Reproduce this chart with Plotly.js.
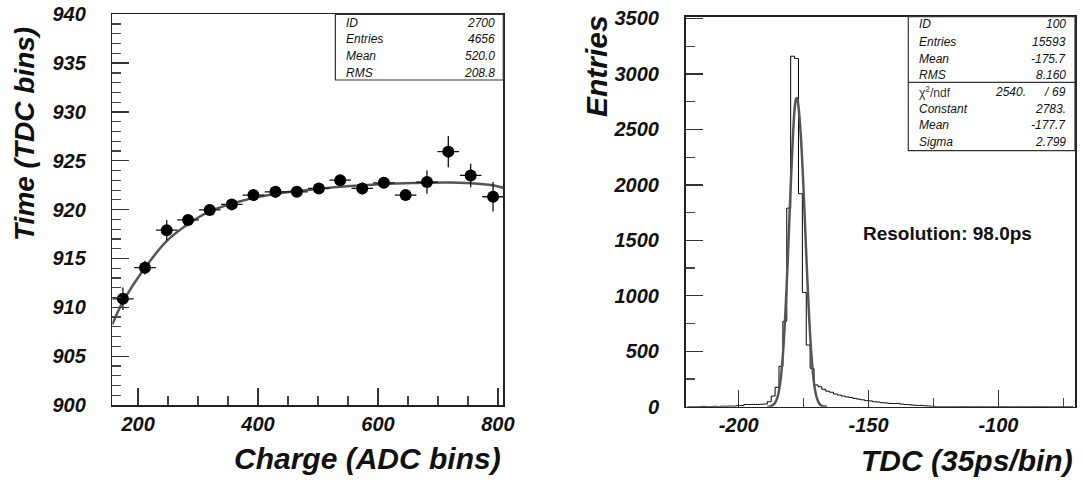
<!DOCTYPE html>
<html>
<head>
<meta charset="utf-8">
<script src="https://cdn.plot.ly/plotly-3.0.1.min.js"></script>
<style>html,body{margin:0;padding:0;background:#fff;}#chart{width:1082px;height:484px;}</style>
</head>
<body>
<div id="chart"></div>
<script>
// ---------- Left panel: Time vs Charge ----------
const chargeX = [174.7, 211.5, 247.7, 283.3, 319.4, 356.2, 392.3, 429.1, 464.7, 501.4, 537.0, 573.8, 609.9, 646.1, 681.7, 717.3, 754.6, 791.9];
const timeY   = [910.87, 914.06, 917.9, 918.95, 919.97, 920.54, 921.49, 921.83, 921.83, 922.17, 923.02, 922.17, 922.75, 921.49, 922.82, 925.94, 923.5, 921.32];
const timeErr = [1.15, 0.7, 1.05, 0.55, 0.5, 0.5, 0.5, 0.6, 0.5, 0.5, 0.5, 0.6, 0.5, 0.5, 1.2, 1.6, 1.2, 1.5];
const chargeErr = [18, 18, 18, 18, 18, 18, 18, 18, 18, 18, 18, 18, 18, 18, 18, 18, 18, 18];
const fitLeftX = [157, 175, 211, 248, 283, 320, 356, 392, 429, 465, 501, 537, 574, 610, 646, 682, 717, 755, 791, 809];
const fitLeftY = [908.25, 910.6, 914.0, 916.8, 918.5, 919.85, 920.6, 921.2, 921.6, 921.9, 922.15, 922.35, 922.5, 922.62, 922.7, 922.76, 922.78, 922.7, 922.5, 922.25];
const statsLeftLabels = ['ID', 'Entries', 'Mean', 'RMS'];
const statsLeftValues = ['2700', '4656', '520.0', '208.8'];

// ---------- Right panel: TDC histogram ----------
const histLow = -220.5, histBinWidth = 1.5;
const tdcCounts = [
  0, 0, 0, 0, 3, 0, 0, 4, 0, 5,
  4, 6, 5, 9, 10, 20, 19, 21, 20, 22,
  24, 45, 96, 175, 363, 770, 1790, 3160, 3140, 1920,
  1030, 556, 346, 196, 180, 157, 140, 130, 114, 105,
  96, 88, 82, 75, 68, 62, 55, 52, 45, 42,
  36, 34, 30, 28, 30, 24, 20, 18, 14, 12,
  12, 8, 6, 4, 0, 0, 0, 0, 0, 0,
  0, 0, 0, 0, 0, 0, 0, 0, 0, 0,
  0, 0, 0, 0, 0, 0, 0, 0, 0, 0,
  0, 0, 0, 0, 0, 0, 0, 0, 0, 0
];
const gausX = [-189, -188, -187, -186, -185, -184, -183, -182, -181, -180, -179, -178.5, -178, -177.7, -177.4, -177, -176, -175, -174, -173, -172, -171, -170, -169, -168, -167, -166];
const gausY = [0.5, 3, 12, 35, 92, 220, 465, 860, 1390, 1980, 2495, 2680, 2770, 2783, 2770, 2710, 2410, 1940, 1380, 860, 462, 212, 85, 28, 8, 2, 0.5];
const tdcTickVals = [-200, -150, -100];
const tdcTickText = ['-200', '-150', '-100'];
const statsRightLabels = ['ID', 'Entries', 'Mean', 'RMS'];
const statsRightValues = ['100', '15593', '-175.7', '8.160'];
const fitLabels = ['Constant', 'Mean', 'Sigma'];
const fitValues = ['2783.', '-177.7', '2.799'];
const chi2Value = '2540.', ndfValue = '69';

const tdcCenters = tdcCounts.map((_, k) => histLow + histBinWidth * (k + 0.5));

// ---------- helpers ----------
const W = 1082, H = 484;
const P = x => x / W;
const Q = y => 1 - y / H;
const FONT = 'Liberation Sans, Arial, Helvetica, sans-serif';
const tickFont = {family: FONT, size: 20, weight: 'bold', style: 'italic', color: '#111'};

function axisBase(extra) {
  return Object.assign({
    showline: true, mirror: true, linecolor: '#222', linewidth: 1.5,
    ticks: 'inside', ticklen: 17, tickwidth: 1.3, tickcolor: '#333',
    showgrid: false, zeroline: false, tickfont: tickFont, fixedrange: true
  }, extra);
}

const traces = [
  {
    x: fitLeftX, y: fitLeftY, xaxis: 'x', yaxis: 'y', type: 'scatter', mode: 'lines',
    line: {color: '#555', width: 2.5, shape: 'spline', smoothing: 1}, hoverinfo: 'skip'
  },
  {
    x: chargeX, y: timeY, xaxis: 'x', yaxis: 'y', type: 'scatter', mode: 'markers',
    marker: {color: '#000', size: 12},
    error_y: {type: 'data', array: timeErr, color: '#111', thickness: 1.3, width: 0},
    error_x: {type: 'data', array: chargeErr, color: '#111', thickness: 1.3, width: 0}
  },
  {
    x: tdcCenters, y: tdcCounts, xaxis: 'x2', yaxis: 'y2', type: 'scatter', mode: 'lines',
    line: {color: '#000', width: 1, shape: 'hvh'}
  },
  {
    x: gausX, y: gausY, xaxis: 'x2', yaxis: 'y2', type: 'scatter', mode: 'lines',
    line: {color: '#555', width: 2.5, shape: 'spline', smoothing: 0.8}
  }
];

const ann = [];
const shapes = [];
function txt(x, y, text, opts) {
  ann.push(Object.assign({
    xref: 'paper', yref: 'paper', x: P(x), y: Q(y), text: text, showarrow: false,
    xanchor: 'left', yanchor: 'middle',
    font: {family: FONT, size: 12, style: 'italic', color: '#111'}
  }, opts || {}));
}

// Axis titles
const titleFont = {family: FONT, size: 28, weight: 'bold', style: 'italic', color: '#111'};
const titleFontBig = {family: FONT, size: 30, weight: 'bold', style: 'italic', color: '#111'};
txt(24, 134, 'Time (TDC bins)', {textangle: -90, xanchor: 'center', yanchor: 'middle', font: titleFont});
txt(503.3, 458, 'Charge (ADC bins)', {xanchor: 'right', font: titleFontBig});
txt(596, 66, 'Entries', {textangle: -90, xanchor: 'center', yanchor: 'middle', font: titleFontBig});
txt(1075, 460, 'TDC (35ps/bin)', {xanchor: 'right', font: titleFontBig});

// Resolution text
txt(947, 233, 'Resolution: 98.0ps', {xanchor: 'center', font: {family: FONT, size: 19, weight: 'bold', color: '#111'}});

// Left stats box
shapes.push({type: 'rect', xref: 'paper', yref: 'paper', x0: P(335.4), x1: P(503.3), y0: Q(80), y1: Q(14.3),
  line: {color: '#333', width: 1.2}, fillcolor: '#fff'});
const leftRows = [23, 39.5, 56, 72.5];
statsLeftLabels.forEach((l, i) => {
  txt(344.3, leftRows[i], l);
  txt(496.7, leftRows[i], statsLeftValues[i], {xanchor: 'right'});
});

// Right stats box
shapes.push({type: 'rect', xref: 'paper', yref: 'paper', x0: P(908.3), x1: P(1075), y0: Q(150.7), y1: Q(16.7),
  line: {color: '#333', width: 1.2}, fillcolor: '#fff'});
shapes.push({type: 'line', xref: 'paper', yref: 'paper', x0: P(908.3), x1: P(1075), y0: Q(82.3), y1: Q(82.3),
  line: {color: '#333', width: 1.2}});
const rightRows = [24.3, 42, 58.7, 75.3];
statsRightLabels.forEach((l, i) => {
  txt(917, rightRows[i], l);
  txt(1068.3, rightRows[i], statsRightValues[i], {xanchor: 'right'});
});
txt(917, 91.7, 'χ<sup>2</sup>/ndf', {font: {family: FONT, size: 12, color: '#333'}});
txt(1028.3, 91.7, chi2Value, {xanchor: 'right'});
txt(1047, 91.7, '/', {xanchor: 'center'});
txt(1068.3, 91.7, ndfValue, {xanchor: 'right'});
const fitRows = [108.7, 125, 142];
fitLabels.forEach((l, i) => {
  txt(917, fitRows[i], l);
  txt(1068.3, fitRows[i], fitValues[i], {xanchor: 'right'});
});

const layout = {
  width: W, height: H, margin: {l: 0, r: 0, t: 0, b: 0},
  paper_bgcolor: '#fff', plot_bgcolor: '#fff', showlegend: false,
  xaxis: axisBase({domain: [P(112.3), P(503.3)], range: [157, 809], anchor: 'y',
    dtick: 200, tick0: 0, ticklabelstandoff: 0,
    minor: {dtick: 50, tick0: 0, ticks: 'inside', ticklen: 9, tickcolor: '#444', tickwidth: 1.2}}),
  yaxis: axisBase({domain: [Q(405), Q(14.3)], range: [900, 940], anchor: 'x',
    dtick: 5, tick0: 900, ticklabelstandoff: 21,
    minor: {dtick: 1, tick0: 900, ticks: 'inside', ticklen: 9, tickcolor: '#444', tickwidth: 1.2}}),
  xaxis2: axisBase({domain: [P(685.5), P(1075)], range: [histLow, histLow + histBinWidth * tdcCounts.length], anchor: 'y2',
    tickmode: 'array', tickvals: tdcTickVals, ticktext: tdcTickText, ticklabelstandoff: 0,
    minor: {dtick: 25, tick0: 0, ticks: 'inside', ticklen: 9, tickcolor: '#444', tickwidth: 1.2}}),
  yaxis2: axisBase({domain: [Q(406.7), Q(16.7)], range: [0, 3516], anchor: 'x2',
    dtick: 500, tick0: 0, ticklabelstandoff: 21,
    minor: {dtick: 250, tick0: 0, ticks: 'inside', ticklen: 9, tickcolor: '#444', tickwidth: 1.2}}),
  shapes: shapes,
  annotations: ann
};

Plotly.newPlot('chart', traces, layout, {staticPlot: true, displayModeBar: false});
</script>
</body>
</html>
